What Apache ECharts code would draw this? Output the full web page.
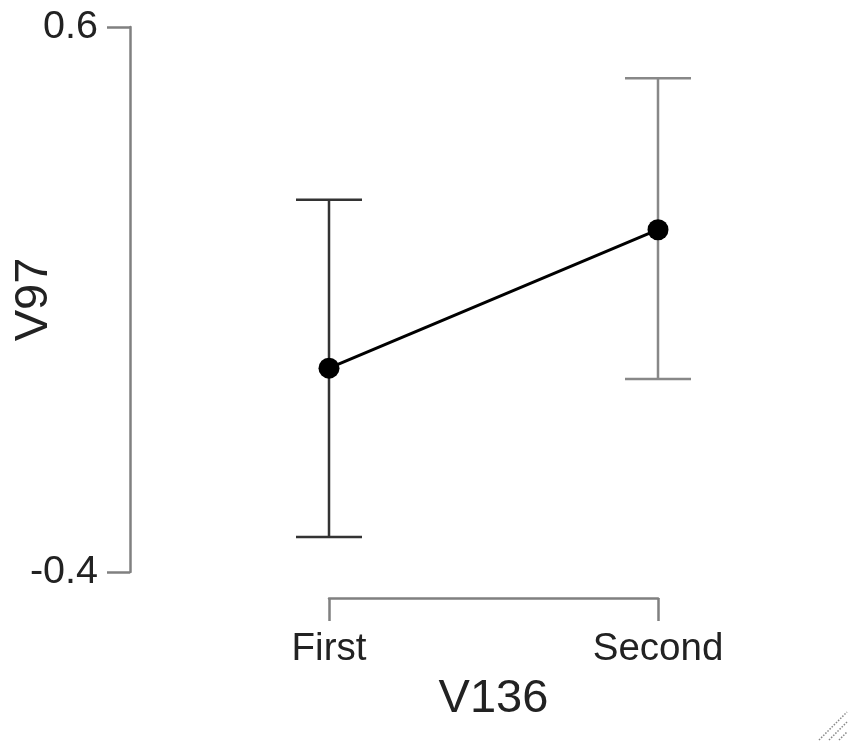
<!DOCTYPE html>
<html>
<head>
<meta charset="utf-8">
<script src="https://cdn.jsdelivr.net/npm/echarts@6/dist/echarts.min.js"></script>
<style>
html,body{margin:0;padding:0;background:#fff;}
#chart{width:852px;height:749px;}
</style>
</head>
<body>
<div id="chart"></div>
<script>
const categories = ['First', 'Second'];
const means = [-0.026, 0.228];
const lower = [-0.336, -0.046];
const upper = [0.283, 0.506];
const yTicks = [-0.4, 0.6];
const barColors = ['#333333', '#888888'];

const FONT = 'Liberation Sans, Arial, Helvetica, sans-serif';
const chart = echarts.init(document.getElementById('chart'), null, {renderer: 'canvas'});

const option = {
  animation: false,
  backgroundColor: '#ffffff',
  grid: {left: 329, right: 194, top: 27, bottom: 177, containLabel: false, outerBoundsMode: 'none'},
  xAxis: {
    type: 'category',
    data: categories,
    boundaryGap: false,
    offset: 26,
    axisLine: {show: true, onZero: false, lineStyle: {color: '#808080', width: 2.5}},
    axisTick: {show: true, length: 23, lineStyle: {color: '#808080', width: 2.5}},
    axisLabel: {fontSize: 38.5, color: '#222', fontFamily: FONT, margin: 32},
    splitLine: {show: false},
    name: 'V136',
    nameLocation: 'middle',
    nameGap: 78,
    nameMoveOverlap: false,
    nameTextStyle: {fontSize: 47, color: '#222', fontFamily: FONT}
  },
  yAxis: {
    type: 'value',
    min: -0.4,
    max: 0.6,
    offset: 199,
    axisLine: {show: true, onZero: false, lineStyle: {color: '#808080', width: 2.5}},
    axisTick: {show: true, length: 23, customValues: yTicks, lineStyle: {color: '#808080', width: 2.5}},
    axisLabel: {fontSize: 39.5, color: '#222', fontFamily: FONT, margin: 32, customValues: yTicks},
    splitLine: {show: false},
    name: 'V97',
    nameLocation: 'middle',
    nameGap: 72,
    nameMoveOverlap: false,
    nameTextStyle: {fontSize: 47, color: '#222', fontFamily: FONT}
  },
  series: [
    {
      type: 'custom',
      z: 1,
      data: categories.map((c, i) => [i, lower[i], upper[i]]),
      renderItem: function (params, api) {
        const i = params.dataIndex;
        const x = api.value(0);
        const lo = api.coord([x, api.value(1)]);
        const hi = api.coord([x, api.value(2)]);
        const half = 33;
        const st = {stroke: barColors[i], lineWidth: 2.5};
        return {
          type: 'group',
          children: [
            {type: 'line', shape: {x1: lo[0], y1: lo[1], x2: hi[0], y2: hi[1]}, style: st},
            {type: 'line', shape: {x1: hi[0] - half, y1: hi[1], x2: hi[0] + half, y2: hi[1]}, style: st},
            {type: 'line', shape: {x1: lo[0] - half, y1: lo[1], x2: lo[0] + half, y2: lo[1]}, style: st}
          ]
        };
      }
    },
    {
      type: 'line',
      z: 5,
      data: means,
      symbol: 'circle',
      symbolSize: 21,
      itemStyle: {color: '#000'},
      lineStyle: {color: '#000', width: 3}
    }
  ],
  graphic: [
    {type: 'line', shape: {x1: 819, y1: 740, x2: 847, y2: 712}, style: {stroke: '#888', lineWidth: 1.5, lineDash: [1.5, 1.5]}},
    {type: 'line', shape: {x1: 829, y1: 740, x2: 847, y2: 722}, style: {stroke: '#888', lineWidth: 1.5, lineDash: [1.5, 1.5]}},
    {type: 'line', shape: {x1: 839, y1: 740, x2: 847, y2: 732}, style: {stroke: '#888', lineWidth: 1.5, lineDash: [1.5, 1.5]}}
  ]
};
chart.setOption(option);
</script>
</body>
</html>
